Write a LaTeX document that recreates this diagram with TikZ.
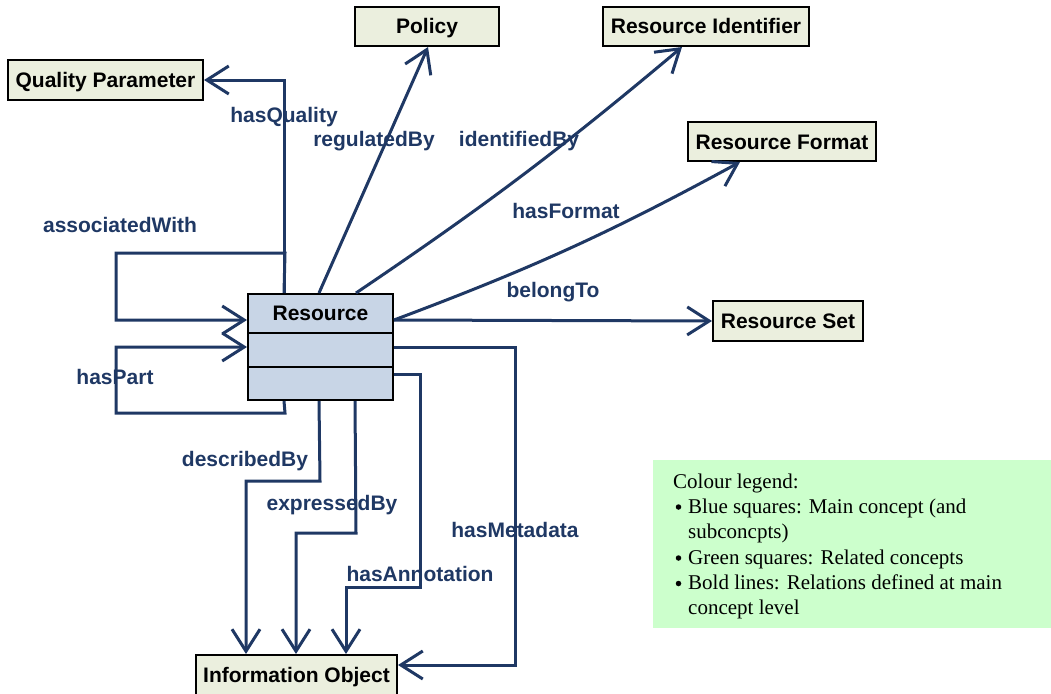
\documentclass[tikz,border=0pt]{standalone}
\usepackage{fontspec}
\setmainfont{Liberation Serif}
\setsansfont{Liberation Sans}
\usetikzlibrary{arrows.meta,calc}
\definecolor{conn}{RGB}{31,56,100}
\definecolor{boxgreen}{RGB}{235,239,222}
\definecolor{resblue}{RGB}{200,213,230}
\definecolor{leggreen}{RGB}{204,255,204}
\begin{document}
\begin{tikzpicture}[x=1pt,y=-1pt,
  box/.style={draw=black,line width=2pt,fill=boxgreen,inner sep=0pt,text height=15pt,text depth=0pt,
    font=\sffamily\bfseries\fontsize{21}{24}\selectfont},
  conn/.style={draw=conn,line width=3pt,line join=miter},
  arr/.style={-{Straight Barb[length=22pt,width=28pt]}},
  lab/.style={text=conn,inner sep=0pt,font=\sffamily\bfseries\fontsize{21}{24}\selectfont},
  legtext/.style={anchor=base west,inner sep=0pt,font=\fontsize{21}{25}\selectfont},
  legbul/.style={circle,fill=black,inner sep=0pt,minimum size=5.5pt}]
\useasboundingbox (0,0) rectangle (1051,693);

% boxes
\node[box,minimum width=195pt,minimum height=40pt] (qp) at (105.5,80) {Quality Parameter};
\node[box,minimum width=144pt,minimum height=39pt] (pol) at (427,26.5) {Policy};
\node[box,minimum width=206pt,minimum height=39pt] (ri) at (706,26.5) {Resource Identifier};
\node[box,minimum width=188pt,minimum height=39pt] (rf) at (782,141.5) {Resource Format};
\node[box,minimum width=150pt,minimum height=40pt] (rs) at (788,321) {Resource Set};
\node[box,minimum width=201pt,minimum height=40pt] (io) at (296.5,675) {Information Object};
\node[box,fill=resblue,minimum width=145pt,minimum height=106pt] (res) at (320.5,347) {};
\node[inner sep=0pt,font=\sffamily\bfseries\fontsize{21}{24}\selectfont] (restitle) at (320.5,313) {Resource};
\draw[line width=2pt] (res.west |- 0,333) coordinate (d1w) -- (res.east |- 0,333) coordinate (d1e);
\draw[line width=2pt] (res.west |- 0,367) coordinate (d2w) -- (res.east |- 0,367) coordinate (d2e);

% bend coordinates
\coordinate (aw1) at (285,253);
\coordinate (aw2) at (116,253);
\coordinate (aw3) at (116,320);
\coordinate (hp1) at (285,413);
\coordinate (hp2) at (116,413);
\coordinate (hp3) at (116,347);
\coordinate (db1) at (320,481);
\coordinate (db2) at (246,481);
\coordinate (eb1) at (356,533);
\coordinate (eb2) at (296,533);
\coordinate (ha1) at (420,374);
\coordinate (ha2) at (420,587);
\coordinate (ha3) at (346,587);
\coordinate (hm1) at (515,347);
\coordinate (hm2) at (515,665);

% connectors
\draw[conn,arr] ([xshift=37pt]res.north west) |- (qp.east);
\draw[conn,arr] ([xshift=37pt]res.north west) -- (aw1) -- (aw2) -- (aw3) -- ([yshift=27pt]res.west);
\draw[conn,arr] ([xshift=37pt]res.south west) -- (hp1) -- (hp2) -- (hp3) -- (res.west);
\draw[conn,arr] ([xshift=72pt]res.north west) -- ([xshift=1pt]pol.south);
\draw[conn,arr] ([xshift=109pt]res.north west) to[bend right=3] ([xshift=-24pt]ri.south);
\draw[conn,arr] ([yshift=27pt]res.east) to[bend right=4] ([xshift=-42pt]rf.south);
\draw[conn,arr] ([yshift=27pt]res.east) -- (rs.west);
\draw[conn,arr] ([xshift=72pt]res.south west) -- (db1) -- (db2) -- (io.north -| db2);
\draw[conn,arr] ([xshift=108pt]res.south west) -- (eb1) -- (eb2) -- (io.north -| eb2);
\draw[conn,arr] ([yshift=-27pt]res.east) -- (ha1) -- (ha2) -- (ha3) -- (io.north -| ha3);
\draw[conn,arr] (res.east) -- (hm1) -- (hm2) -- ([yshift=10pt]io.east);

% labels
\node[lab] (lhq) at (284,117) {hasQuality};
\node[lab] (lrb) at (374,141) {regulatedBy};
\node[lab] (lib) at (519,141) {identifiedBy};
\node[lab] (lhf) at (566,211) {hasFormat};
\node[lab] (lbt) at (553,292) {belongTo};
\node[lab] (law) at (120,225) {associatedWith};
\node[lab] (lhp) at (115,377) {hasPart};
\node[lab] (ldb) at (245,461) {describedBy};
\node[lab] (leb) at (332,505) {expressedBy};
\node[lab] (lha) at (420,574) {hasAnnotation};
\node[lab] (lhm) at (515,530) {hasMetadata};

% legend
\node[fill=leggreen,inner sep=0pt,minimum width=398pt,minimum height=168pt,anchor=north west] (leg) at (653,460) {};
\node[legtext] (lg0) at (673,488) {Colour legend:};
\node[legbul] (b1) at (678.5,507) {};
\node[legtext] (lg1) at (688,513) {Blue squares: Main concept (and};
\node[legtext] (lg2) at (688,538.5) {subconcpts)};
\node[legbul] (b2) at (678.5,558) {};
\node[legtext] (lg3) at (688,564) {Green squares: Related concepts};
\node[legbul] (b3) at (678.5,583.5) {};
\node[legtext] (lg4) at (688,589.5) {Bold lines: Relations defined at main};
\node[legtext] (lg5) at (688,614) {concept level};
\end{tikzpicture}
\end{document}
